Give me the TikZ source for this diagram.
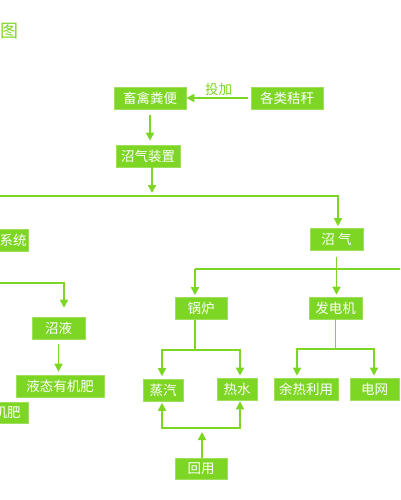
\documentclass[tikz,border=0pt]{standalone}
\usepackage{fontspec}
\setmainfont{Noto Sans CJK SC}
\usetikzlibrary{arrows.meta,calc}
\definecolor{lg}{RGB}{126,214,36}
\begin{document}
\begin{tikzpicture}[x=1pt,y=-1pt,
 box/.style={fill=lg, draw=lg!75!white, line width=0.6pt, text=white,
   font=\fontsize{13.5}{14}\selectfont, inner sep=0pt, minimum height=22pt},
 ln/.style={draw=lg, line width=1.5pt},
 arr/.style={ln, -{Triangle[length=8pt,width=8pt]}},
 lbl/.style={text=lg, font=\fontsize{13.5}{14}\selectfont, inner sep=1pt},
]
\useasboundingbox (0,0) rectangle (400,500);
\clip (0,0) rectangle (400,500);

% title fragment
\node[text=lg, font=\fontsize{18}{18}\selectfont, anchor=west, inner sep=0pt] (title) at (0.5,31) {图};

% boxes
\node[box,minimum width=72pt] (xq) at (150,98) {畜禽粪便};
\node[box,minimum width=72pt] (jg) at (287,98) {各类秸秆};
\node[box,minimum width=64pt] (zqzz) at (148,156) {沼气装置};
\node[box,minimum width=53pt] (zq) at (336.5,239.5) {沼\ 气};
\node[box,minimum width=52pt] (gl) at (201,308.5) {锅炉};
\node[box,minimum width=53pt] (fdj) at (335.5,308) {发电机};
\node[box,minimum width=40pt] (zhq) at (163,390.5) {蒸汽};
\node[box,minimum width=40pt] (rs) at (237,389) {热水};
\node[box,minimum width=64pt] (yr) at (306,389) {余热利用};
\node[box,minimum width=49pt] (dw) at (374.5,389) {电网};
\node[box,minimum width=52pt,minimum height=21pt] (hy) at (201,468.5) {回用};
\node[box,minimum width=53pt] (zy) at (58.5,328) {沼液};
\node[box,minimum width=88pt] (ytf) at (60,386) {液态有机肥};
\node[box,anchor=east,inner xsep=2pt] (xt) at (29,240.5) {\makebox[60pt][r]{系统}};
\node[box,anchor=east,inner xsep=8pt,minimum height=21pt] (gtf) at (29,412.5) {\makebox[60pt][r]{机肥}};

% coordinates
\coordinate (b1) at (152,196);
\coordinate (bl) at (0,196);
\coordinate (br) at (338,196);
\coordinate (c1) at (195,269);
\coordinate (c2) at (401,269);
\coordinate (d1) at (297,349);
\coordinate (d2) at (374,349);
\coordinate (e1) at (162,350);
\coordinate (e2) at (240,350);
\coordinate (f0) at (202,428);
\coordinate (f1) at (162,428);
\coordinate (f2) at (240,428);
\coordinate (g0) at (0,283);
\coordinate (g1) at (64,283);

% connectors
\draw[arr, shorten <=3pt] (jg.west) -- node[lbl, above=1pt] (tj) {投加} (xq.east);
\draw[arr, shorten <=6pt, shorten >=4pt] (xq.south) -- (xq.south |- zqzz.north);
\draw[arr, shorten >=3pt] (b1 |- zqzz.south) -- (b1);
\draw[arr, shorten >=2pt] (bl) -- (br) -- (br |- zq.north);
\draw[arr, shorten <=6pt, shorten >=2pt] (zq.south) -- (zq.south |- fdj.north);
\draw[ln] (c1) -- (c2);
\draw[arr, shorten >=2pt] (c1) -- (c1 |- gl.north);

\draw[ln] (fdj.south) -- (fdj.south |- d1);
\draw[arr, shorten >=2pt] (d2 |- d1) -- (d1) -- (d1 |- yr.north);
\draw[arr, shorten >=2pt] (d1) -- (d2) -- (d2 |- dw.north);

\draw[ln] (c1 |- gl.south) -- (c1 |- e1);
\draw[arr, shorten >=3pt] (e2) -- (e1) -- (e1 |- zhq.north);
\draw[arr, shorten >=2pt] (e1) -- (e2) -- (e2 |- rs.north);

\draw[arr, shorten >=4pt] (f0 |- hy.north) -- (f0);
\draw[arr, shorten >=1pt] (f2) -- (f1) -- (f1 |- zhq.south);
\draw[arr, shorten >=1pt] (f1) -- (f2) -- (f2 |- rs.south);

\draw[arr, shorten >=9pt] (g0) -- (g1) -- (g1 |- zy.north);
\draw[arr, shorten <=5pt, shorten >=3pt] (zy.south) -- (zy.south |- ytf.north);
\end{tikzpicture}
\end{document}
